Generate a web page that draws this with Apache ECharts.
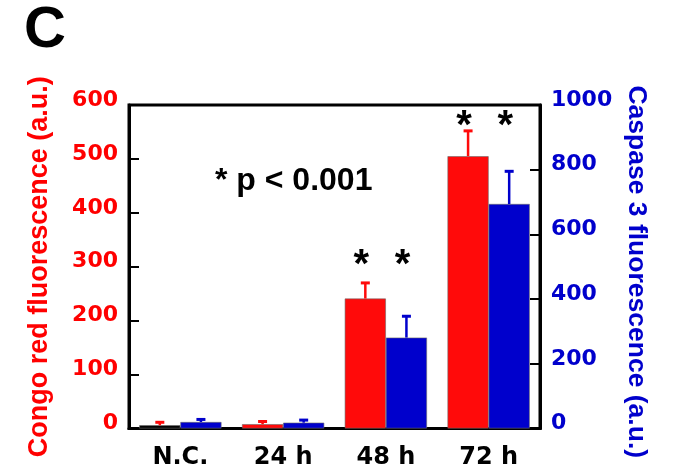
<!DOCTYPE html>
<html>
<head>
<meta charset="utf-8">
<script src="https://cdn.jsdelivr.net/npm/echarts@6/dist/echarts.min.js"></script>
<style>html,body{margin:0;padding:0;background:#fff;}#c{width:673px;height:472px;}</style>
</head>
<body>
<div id="c"></div>
<script>
var categories = ['N.C.', '24 h', '48 h', '72 h'];
var congoRed = [6, 8, 241, 505];
var congoRedErrTop = [11.5, 13, 270, 552];
var caspase3 = [20, 18, 281, 694];
var caspase3ErrTop = [28, 26, 347, 795];
var significant = [false, false, true, true];
var starLevel = [0, 0, 317, 574];   // height of the asterisks (left axis units)
var leftTicks = [0, 100, 200, 300, 400, 500, 600];
var rightTicks = [0, 200, 400, 600, 800, 1000];

var RED = '#ff0a0a', BLUE = '#0000cc';
var FONT = 'DejaVu Sans';
var chart = echarts.init(document.getElementById('c'), null, {renderer: 'canvas'});

function errSeries(vals, tops, color, side, yIdx) {
  return {
    type: 'custom', yAxisIndex: yIdx, z: 5,
    data: vals.map(function (v, i) { return [i, v, tops[i]]; }),
    encode: {x: 0, y: [1, 2]},
    renderItem: function (params, api) {
      var c = api.value(0);
      var p0 = api.coord([c, api.value(1)]);
      var p1 = api.coord([c, api.value(2)]);
      var bw = api.size([1, 0])[0] * 0.4;
      var x = p0[0] + side * bw / 2;
      return {type: 'group', children: [
        {type: 'line', shape: {x1: x, y1: p0[1], x2: x, y2: p1[1]}, style: {stroke: color, lineWidth: 2.5}},
        {type: 'line', shape: {x1: x - 4.5, y1: p1[1], x2: x + 4.5, y2: p1[1]}, style: {stroke: color, lineWidth: 3}}
      ]};
    }
  };
}

var starData = [];
significant.forEach(function (s, i) { if (s) starData.push([i, starLevel[i]]); });

var option = {
  animation: false,
  title: {text: 'C', left: 19, top: -3, textStyle: {fontFamily: 'Liberation Sans', fontWeight: 'bold', fontSize: 58, color: '#000'}},
  grid: {left: 129, right: 133, top: 105, bottom: 43.5, show: true, borderColor: '#000', borderWidth: 3},
  xAxis: {
    type: 'category', data: categories,
    axisLine: {lineStyle: {color: '#000', width: 3}},
    axisTick: {show: false},
    axisLabel: {color: '#000', fontFamily: FONT, fontWeight: 'bold', fontSize: 24, margin: 17}
  },
  yAxis: [{
    type: 'value', min: 0, max: 600, interval: 100, position: 'left',
    splitLine: {show: false},
    axisLine: {show: true, lineStyle: {color: '#000', width: 3}},
    axisTick: {show: true, inside: true, length: 10, lineStyle: {color: '#000', width: 2}},
    axisLabel: {color: '#ff0000', fontFamily: FONT, fontWeight: 'bold', fontSize: 22, margin: 11,
      verticalAlign: 'bottom', lineHeight: 10,
      formatter: function (v) { return String(v); }},
    name: 'Congo red fluorescence (a.u.)', nameLocation: 'middle', nameRotate: 90, nameGap: 76,
    nameTextStyle: {color: '#ff0000', fontFamily: 'Liberation Sans', fontWeight: 'bold', fontSize: 27}
  }, {
    type: 'value', min: 0, max: 1000, interval: 200, position: 'right',
    splitLine: {show: false},
    axisLine: {show: true, lineStyle: {color: '#000', width: 3}},
    axisTick: {show: true, inside: true, length: 10, lineStyle: {color: '#000', width: 2}},
    axisLabel: {color: BLUE, fontFamily: FONT, fontWeight: 'bold', fontSize: 22, margin: 11,
      verticalAlign: 'bottom', lineHeight: 10,
      formatter: function (v) { return String(v); }},
    name: 'Caspase 3 fluorescence (a.u.)', nameLocation: 'middle', nameRotate: -90, nameGap: 72,
    nameTextStyle: {color: BLUE, fontFamily: 'Liberation Sans', fontWeight: 'bold', fontSize: 26.5, padding: [0, 0, 0, 10]}
  }],
  graphic: [{
    type: 'text', left: 215, top: 165, z: 10,
    style: {text: '* p < 0.001', fill: '#000', font: 'bold 32px "Liberation Sans"'}
  }],
  series: [{
    type: 'bar', yAxisIndex: 0, barGap: '0%', barCategoryGap: '20%',
    data: congoRed.map(function (v, i) { return {value: v, itemStyle: {color: i === 0 ? '#000' : RED}}; }),
    itemStyle: {borderColor: '#6a6a6a', borderWidth: 0.6}
  }, {
    type: 'bar', yAxisIndex: 1, barGap: '0%', barCategoryGap: '20%',
    data: caspase3,
    itemStyle: {color: BLUE, borderColor: '#6a6a6a', borderWidth: 0.6}
  },
  errSeries(congoRed, congoRedErrTop, RED, -1, 0),
  errSeries(caspase3, caspase3ErrTop, BLUE, 1, 1),
  {
    type: 'custom', yAxisIndex: 0, z: 6, data: starData, encode: {x: 0, y: 1},
    renderItem: function (params, api) {
      var p = api.coord([api.value(0), api.value(1)]);
      var cw = api.size([1, 0])[0];
      var st = {fill: '#000', font: 'bold 40px "Liberation Sans"', textAlign: 'center', textVerticalAlign: 'middle'};
      return {type: 'group', children: [
        {type: 'text', x: p[0] - cw * 0.2 - 4, y: p[1] + 8, style: Object.assign({text: '*'}, st)},
        {type: 'text', x: p[0] + cw * 0.2 - 4, y: p[1] + 8, style: Object.assign({text: '*'}, st)}
      ]};
    }
  }]
};
chart.setOption(option);
</script>
</body>
</html>
